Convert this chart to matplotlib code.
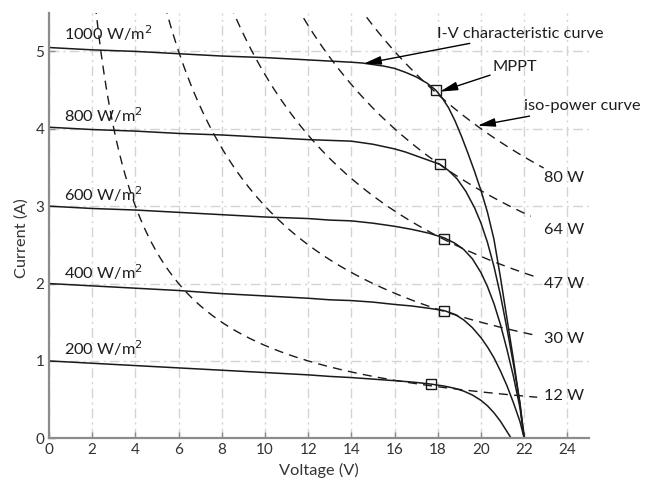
import numpy as np
import matplotlib
matplotlib.use("Agg")
import matplotlib.pyplot as plt

plt.rcParams['font.family'] = ['Lato', 'DejaVu Sans']

# I-V curves (voltage in V, current in A)
v_1000 = [0, 2, 4, 6, 8, 10, 12, 14, 14.5, 15, 15.5, 16, 16.5, 17, 17.5, 17.9, 18.2, 18.5, 18.8,
          19.1, 19.4, 19.7, 20.0, 20.3, 20.6, 20.9, 21.2, 21.5, 21.8, 22.0]
i_1000 = [5.05, 5.02, 5.00, 4.97, 4.94, 4.92, 4.89, 4.86, 4.85, 4.83, 4.81, 4.78, 4.73, 4.67, 4.59,
          4.50, 4.40, 4.27, 4.10, 3.90, 3.68, 3.45, 3.20, 2.92, 2.57, 2.08, 1.55, 1.02, 0.45, 0.0]

v_800 = [0, 2, 4, 6, 8, 10, 12, 14, 14.5, 15, 15.5, 16, 16.5, 17, 17.6, 18.1, 18.5, 18.9, 19.3,
         19.7, 20.0, 20.3, 20.6, 20.9, 21.2, 21.5, 21.8, 22.0]
i_800 = [4.02, 3.99, 3.97, 3.94, 3.92, 3.89, 3.86, 3.84, 3.82, 3.80, 3.77, 3.74, 3.70, 3.65, 3.59,
         3.54, 3.46, 3.35, 3.19, 2.98, 2.78, 2.53, 2.22, 1.85, 1.42, 0.96, 0.46, 0.0]

v_600 = [0, 2, 4, 6, 8, 10, 12, 13, 14, 15, 16, 16.8, 17.6, 18.3, 18.8, 19.2, 19.6, 20.0, 20.3,
         20.6, 20.9, 21.2, 21.5, 21.8, 22.0]
i_600 = [3.00, 2.97, 2.95, 2.92, 2.89, 2.86, 2.84, 2.82, 2.81, 2.78, 2.74, 2.70, 2.65, 2.59, 2.52,
         2.44, 2.32, 2.14, 1.96, 1.74, 1.47, 1.15, 0.80, 0.40, 0.0]

v_400 = [0, 2, 4, 6, 8, 10, 12, 13, 14, 15, 16, 16.8, 17.6, 18.3, 18.8, 19.2, 19.6, 20.0, 20.3,
         20.6, 20.9, 21.2, 21.5, 21.8, 22.0]
i_400 = [2.00, 1.97, 1.94, 1.91, 1.87, 1.84, 1.81, 1.79, 1.78, 1.76, 1.73, 1.71, 1.68, 1.65, 1.60,
         1.53, 1.43, 1.30, 1.18, 1.04, 0.87, 0.68, 0.46, 0.22, 0.0]

v_200 = [0, 2, 4, 6, 8, 10, 12, 13, 14, 15, 16, 16.9, 17.7, 18.3, 18.8, 19.2, 19.6, 20.0, 20.3,
         20.6, 20.9, 21.15, 21.4]
i_200 = [1.00, 0.97, 0.94, 0.91, 0.88, 0.85, 0.82, 0.80, 0.785, 0.765, 0.745, 0.725, 0.70, 0.675,
         0.645, 0.61, 0.56, 0.49, 0.42, 0.33, 0.22, 0.11, 0.0]

iv_curves = [(v_1000, i_1000), (v_800, i_800), (v_600, i_600), (v_400, i_400), (v_200, i_200)]
irradiance_labels = ['1000 W/m$^2$', '800 W/m$^2$', '600 W/m$^2$', '400 W/m$^2$', '200 W/m$^2$']
irradiance_label_y = [5.24, 4.17, 3.16, 2.15, 1.17]

# maximum power points
mpp_v = [17.9, 18.1, 18.3, 18.3, 17.7]
mpp_i = [4.50, 3.54, 2.58, 1.64, 0.70]

# iso-power curves (constant P = V * I)
iso_power = [80, 64, 47, 30, 12]
iso_v_end = [22.9, 22.3, 22.6, 22.6, 22.6]
iso_labels = ['80 W', '64 W', '47 W', '30 W', '12 W']
iso_label_y = [3.36, 2.69, 1.99, 1.28, 0.55]

fig = plt.figure(figsize=(6.59, 4.83), dpi=100)
ax = fig.add_axes([0.0744, 0.0925, 0.8194, 0.8812])

line_col = '#1a1a1a'
text_col = '#1e1e1e'
fs = 11.8

for v, i in iv_curves:
    ax.plot(v, i, color=line_col, lw=1.1, solid_joinstyle='round')

for p, vend in zip(iso_power, iso_v_end):
    vv = np.linspace(p / 5.6, vend, 300)
    ax.plot(vv, p / vv, color=line_col, lw=1.0, dashes=(6.5, 4.5))

ax.plot(mpp_v, mpp_i, linestyle='none', marker='s', markersize=6.5,
        markerfacecolor='none', markeredgecolor=line_col, markeredgewidth=1.0, zorder=5)

for lab, y in zip(irradiance_labels, irradiance_label_y):
    ax.text(0.7, y, lab, fontsize=fs, color=text_col, va='center', ha='left')

for lab, y in zip(iso_labels, iso_label_y):
    ax.text(22.9, y, lab, fontsize=fs, color=text_col, va='center', ha='left')

arrow = dict(arrowstyle='-|>,head_length=0.9,head_width=0.22', color='k', lw=1.0,
             shrinkA=0, shrinkB=0)
ax.annotate('I-V characteristic curve', xy=(14.56, 4.84), xytext=(17.98, 5.23),
            fontsize=fs, color=text_col, va='center', ha='left', arrowprops=arrow,
            annotation_clip=False)
ax.annotate('MPPT', xy=(18.1, 4.48), xytext=(20.55, 4.80),
            fontsize=fs, color=text_col, va='center', ha='left', arrowprops=arrow)
ax.annotate('iso-power curve', xy=(19.84, 4.04), xytext=(22.0, 4.29),
            fontsize=fs, color=text_col, va='center', ha='left', arrowprops=arrow,
            annotation_clip=False)

ax.set_xlim(0, 25)
ax.set_ylim(0, 5.5)
ax.set_xticks(range(0, 25, 2))
ax.set_yticks(range(0, 6))
ax.grid(True, color='#d4d4d4', lw=1.0, dashes=(7, 3, 1.5, 3))
ax.set_axisbelow(True)

for side in ['top', 'right']:
    ax.spines[side].set_visible(False)
for side in ['left', 'bottom']:
    ax.spines[side].set_color('#8c8c8c')
    ax.spines[side].set_linewidth(1.6)

ax.tick_params(direction='in', length=4, width=1, color='#8c8c8c',
               labelsize=11, labelcolor='#333333')
ax.set_xlabel('Voltage (V)', fontsize=fs, color='#333333', labelpad=4)
ax.set_ylabel('Current (A)', fontsize=fs, color='#333333')
ax.yaxis.set_label_coords(-0.037, 0.47)

fig.savefig('out.png', dpi=100)
